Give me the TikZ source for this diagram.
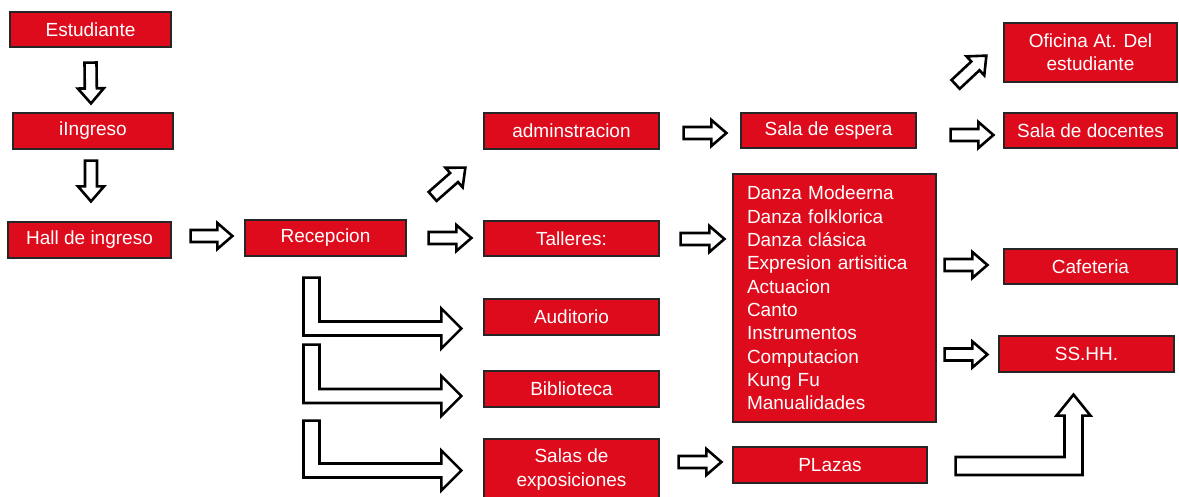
\documentclass[tikz,border=0pt]{standalone}
\usepackage{fontspec}
\setmainfont{Liberation Sans}
\usetikzlibrary{calc,positioning}
\definecolor{boxred}{RGB}{222,11,28}
% hollow block arrow from tail (#1) to tip (#2)
\newcommand{\blockarr}[2]{%
  \draw[blockarrow] let \p1=(#1), \p2=(#2), \n1={atan2(\y2-\y1,\x2-\x1)},
    \n2={veclen(\x2-\x1,\y2-\y1)} in [shift={(\p1)},rotate=\n1]
    (0pt,-6pt) -- (\n2-15pt,-6pt) -- (\n2-15pt,-13pt) -- (\n2,0pt)
    -- (\n2-15pt,13pt) -- (\n2-15pt,6pt) -- (0pt,6pt) -- cycle;}
% bent arrow: down from tail (#1), then right to tip (#2)
\newcommand{\downright}[2]{%
  \draw[blockarrow] let \p1=(#1), \p2=(#2) in
    (\x1-8pt,\y1) -- (\x1-8pt,\y2-7pt) -- (\x2-20pt,\y2-7pt) -- (\x2-20pt,\y2-20pt)
    -- (\x2,\y2) -- (\x2-20pt,\y2+20pt) -- (\x2-20pt,\y2+7pt) -- (\x1+8pt,\y2+7pt)
    -- (\x1+8pt,\y1) -- cycle;}
% bent arrow: right from tail (#1), then up to tip (#2)
\newcommand{\rightup}[2]{%
  \draw[blockarrow] let \p1=(#1), \p2=(#2) in
    (\x1,\y1+9pt) -- (\x2-9pt,\y1+9pt) -- (\x2-9pt,\y2-21pt) -- (\x2-17pt,\y2-21pt)
    -- (\x2,\y2) -- (\x2+17pt,\y2-21pt) -- (\x2+9pt,\y2-21pt) -- (\x2+9pt,\y1-9pt)
    -- (\x1,\y1-9pt) -- cycle;}
\begin{document}
\begin{tikzpicture}[x=1pt,y=-1pt,
  box/.style={draw=black!85,line width=1.2pt,fill=boxred,text=white,align=center,
    font=\fontsize{19}{23.3}\selectfont,inner sep=0pt,minimum height=36pt},
  blockarrow/.style={draw=black,line width=2.6pt,fill=white,line join=miter}]
\useasboundingbox (0,0) rectangle (1179,496);
% left column
\node[box,minimum width=161,minimum height=35] (est) at (90.5,29.5) {Estudiante};
\node[box,minimum width=160] (ingr) at (93,131) {iIngreso};
\node[box,minimum width=163] (hall) at (89.5,240) {Hall de ingreso};
\node[box,minimum width=161] (recep) at (325.5,238) {Recepcion};
% middle column
\node[box,minimum width=175] (admin) at (571.5,131) {adminstracion};
\node[box,minimum width=175,minimum height=35] (tall) at (571.5,238.5) {Talleres:};
\node[box,minimum width=175] (audi) at (571.5,317) {Auditorio};
\node[box,minimum width=175] (bibl) at (571.5,389) {Biblioteca};
\node[box,minimum width=175,minimum height=61] (salas) at (571.5,469.5) {Salas de\\exposiciones};
% right columns
\node[box,minimum width=175,minimum height=35] (spera) at (828.5,130.5) {Sala de espera};
\node[box,minimum width=203,minimum height=248,text width=175,align=left] (danza) at (834.5,298)
  {Danza Modeerna\\Danza folklorica\\Danza clásica\\Expresion artisitica\\Actuacion\\Canto\\Instrumentos\\Computacion\\Kung Fu\\Manualidades};
\node[box,minimum width=194] (plaz) at (830,465) {PLazas};
\node[box,minimum width=173,minimum height=59] (ofic) at (1090.5,52.5) {Oficina At. Del\\estudiante};
\node[box,minimum width=173,minimum height=35] (doc) at (1090.5,130.5) {Sala de docentes};
\node[box,minimum width=173,minimum height=35] (cafe) at (1090.5,266.5) {Cafeteria};
\node[box,minimum width=175] (sshh) at (1086.5,354) {SS.HH.};
% arrows
\blockarr{$(est.south)+(0,15)$}{$(ingr.north)+(-2,-9)$}
\blockarr{$(ingr.south)+(-2,11)$}{$(hall.north)+(1.5,-20)$}
\blockarr{$(hall.east)+(19,-4)$}{$(recep.west)+(-12,-2)$}
\blockarr{$(recep.east)+(22,0)$}{$(tall.west)+(-12,-0.5)$}
\blockarr{$(recep.north east)+(26,-23)$}{$(admin.south west)+(-18,18)$}
\blockarr{$(tall.east)+(21,0.5)$}{$(danza.west|-tall.east)+(-8,0.5)$}
\blockarr{$(admin.east)+(24,2)$}{$(spera.west)+(-14,2.5)$}
\blockarr{$(spera.east)+(34,4.5)$}{$(doc.west)+(-10,4.5)$}
\blockarr{$(spera.north east)+(39,-28)$}{$(ofic.south west)+(-17,-27)$}
\blockarr{$(danza.east|-cafe.west)+(8,-1.5)$}{$(cafe.west)+(-16,-1.5)$}
\blockarr{$(danza.east|-sshh.west)+(8,0.5)$}{$(sshh.west)+(-11,0.5)$}
\blockarr{$(salas.east)+(19,-7.5)$}{$(plaz.west)+(-11,-3)$}
\downright{$(recep.south)+(-14,21)$}{$(audi.west)+(-22,11.5)$}
\downright{$(recep.south)+(-14,88)$}{$(bibl.west)+(-22,7)$}
\downright{$(recep.south)+(-14,164)$}{$(salas.west)+(-22,1)$}
\rightup{$(plaz.east)+(28,1)$}{$(sshh.south)+(-13,22)$}
\end{tikzpicture}
\end{document}
